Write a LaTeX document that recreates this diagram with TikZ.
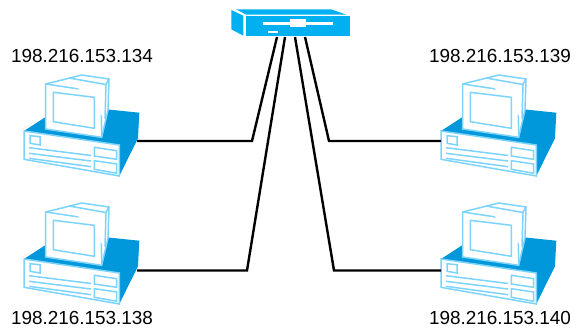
\documentclass[tikz,border=0pt]{standalone}
\usepackage{fontspec}
\setmainfont{Liberation Sans}
\usepackage{tikz}
\usetikzlibrary{positioning}
\definecolor{pcBlue}{RGB}{0, 151, 219}
\definecolor{pcLight}{RGB}{125, 212, 250}
\definecolor{hubBlue}{RGB}{0, 176, 240}
\tikzset{
    ipLabel/.style={inner sep=0pt, font=\fontsize{18.9}{20}\selectfont},
    cable/.style={line width=2.4pt, black, line join=miter},
    pcLine/.style={draw=pcLight, line width=1.5pt, fill=white, line join=miter},
    computer/.pic={
        \coordinate (-left) at (0,10);
        \coordinate (-right) at (113,10);
        % base
        \fill[pcBlue] (0,0)--(22,-14.3)--(84.3,-21.5)--(115.3,-18.3)--(114,7.3)--(95.3,45)--(95.3,14)--cycle;
        \draw[pcLine] (0,0)--(95.3,14)--(95.3,45)--(0,28.3)--cycle;
        \draw[pcLine] (6,4.7)--(16,5.7)--(16,14)--(6,12.3)--cycle;
        \draw[pcLine] (70.3,16.3)--(92.7,19.7)--(92.7,28.3)--(70.3,25)--cycle;
        \draw[pcLine] (70.3,29.7)--(92.7,33)--(92.7,42.3)--(70.3,38.3)--cycle;
        \draw[pcLine] (5,16.7)--(67,24.5);
        \draw[pcLine] (5,22.3)--(67,30);
        \draw[pcLine] (5,27.3)--(67,35.7);
        % monitor
        \draw[pcLine] (21.7,-47)--(57.7,-56)--(85,-52)--(84,-21)--(77.7,6.3)--(21.7,-2)--cycle;
        \draw[pcLine] (21.7,-47)--(77,-38.7)--(77.7,6.3);
        \draw[pcLine] (77,-38.7)--(85,-52);
        \draw[pcLine] (45,-53)--(82,-46.5)--(81,-12);
        \draw[pcLine] (29.3,-38.7)--(70.3,-33.7)--(70.3,-2.7)--(29.3,-9.3)--cycle;
    }
}

\begin{document}
\begin{tikzpicture}[x=1pt, y=-1pt]
        \useasboundingbox (0,0) rectangle (584,327);
        
        % hub
        \fill[hubBlue] (236,9.3)--(331,9.3)--(346,14.5)--(246,14.5)--cycle;
        \fill[hubBlue] (231.3,10)--(243.3,15.7)--(243.3,35.7)--(231.3,29.3)--cycle;
        \fill[hubBlue] (246,15.7) rectangle (350,36);
        \fill[white] (262.7,21.7) rectangle (333,25);
        \fill[white] (290,19.3) rectangle (306,26.7);
        \fill[white] (268.3,30.7) rectangle (278.3,33);
        
        \pic (pcA) at (24,131) {computer};
        \pic (pcB) at (24,259) {computer};
        \pic (pcC) at (441,131) {computer};
        \pic (pcD) at (441,259) {computer};
        
        \coordinate (hubA) at (277,37);
        \coordinate (hubB) at (285,37);
        \coordinate (hubC) at (295,37);
        \coordinate (hubD) at (305,37);
        \coordinate (bendA) at (252,141);
        \coordinate (bendB) at (247,270.5);
        \coordinate (bendC) at (334,270.5);
        \coordinate (bendD) at (329,141);
        
        \draw[cable] (pcA-right)--(bendA)--(hubA);
        \draw[cable] (pcB-right |- bendB)--(bendB)--(hubB);
        \draw[cable] (pcD-left |- bendC)--(bendC)--(hubC);
        \draw[cable] (pcC-left)--(bendD)--(hubD);
        
        \node[ipLabel] (ipA) at (82,56) {198.216.153.134};
        \node[ipLabel] (ipB) at (82,317.5) {198.216.153.138};
        \node[ipLabel] (ipC) at (500,56) {198.216.153.139};
        \node[ipLabel] (ipD) at (500,317.5) {198.216.153.140};
    \end{tikzpicture}
\end{document}
